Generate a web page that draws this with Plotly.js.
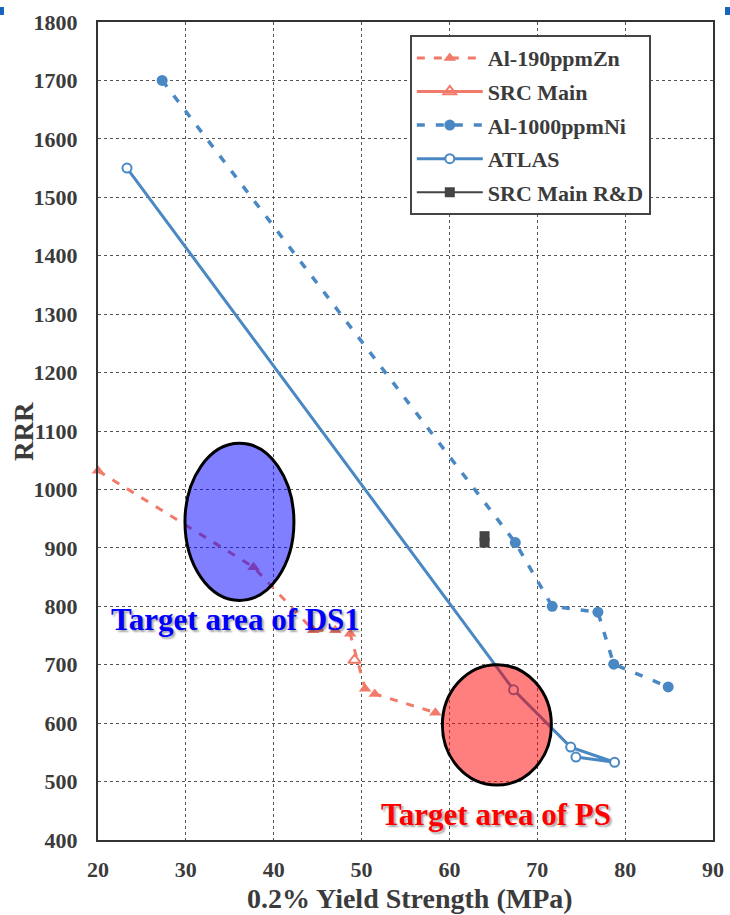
<!DOCTYPE html>
<html>
<head>
<meta charset="utf-8">
<script src="https://cdn.plot.ly/plotly-3.0.1.min.js"></script>
<style>
  html, body { margin: 0; padding: 0; background: #ffffff; }
  #chart { width: 730px; height: 915px; }
</style>
</head>
<body>
<div id="chart"></div>
<script>
// RRR versus 0.2% yield strength of aluminium stabilisers

const znX = [20.0, 37.7, 44.5, 47.0, 48.7, 50.4, 51.5, 58.4];
const znY = [1032, 867, 759, 759, 753, 659, 650, 618];

const srcMainX = [49.2];
const srcMainY = [708];

const niX = [27.3, 67.5, 71.7, 76.9, 78.7, 84.9];
const niY = [1700, 909, 800, 790, 701, 662];

const atlasX = [23.3, 67.3, 73.8, 78.8, 74.4];
const atlasY = [1550, 657, 559, 533, 542];

const rdX = [64.0, 64.0];
const rdY = [920, 909];

// Target regions (x range, y range) and their labels
const ds1Box = { x: [29.9, 42.3], y: [810, 1079] };
const psBox  = { x: [59.2, 71.6], y: [494, 700] };
const ds1Label = { text: 'Target area of DS1', x: 35.7, y: 778 };
const psLabel  = { text: 'Target area of PS',  x: 65.3, y: 443 };

const xTicks = [20, 30, 40, 50, 60, 70, 80, 90];
const yTicks = [400, 500, 600, 700, 800, 900, 1000, 1100, 1200, 1300, 1400, 1500, 1600, 1700, 1800];

const SERIF = '"Liberation Serif", "Times New Roman", serif';
const INK = '#3b3b3b';
const SALMON = '#f27a6a';
const BLUE = '#4a88c3';

const traces = [
  {
    name: 'Al-190ppmZn', x: znX, y: znY, mode: 'lines+markers', legendgroup: 'a',
    line: { color: SALMON, width: 3, dash: '8px,9px' },
    marker: { symbol: 'triangle-up', size: 11, color: SALMON },
    cliponaxis: false
  },
  {
    name: 'SRC Main', x: srcMainX, y: srcMainY, mode: 'lines+markers', legendgroup: 'b',
    line: { color: SALMON, width: 3 },
    marker: { symbol: 'triangle-up-open', size: 11, color: SALMON, line: { width: 2 } }
  },
  {
    name: 'Al-1000ppmNi', x: niX, y: niY, mode: 'lines+markers', legendgroup: 'c',
    line: { color: BLUE, width: 3.5, dash: '8px,11px' },
    marker: { symbol: 'circle', size: 11, color: BLUE }
  },
  {
    name: 'ATLAS', x: atlasX, y: atlasY, mode: 'lines+markers', legendgroup: 'd',
    line: { color: BLUE, width: 3 },
    marker: { symbol: 'circle', size: 9, color: '#ffffff', line: { color: BLUE, width: 2 } }
  },
  {
    name: 'SRC Main R&D', x: rdX, y: rdY, mode: 'lines+markers', legendgroup: 'e',
    line: { color: '#444444', width: 2 },
    marker: { symbol: 'square', size: 10, color: '#444444' }
  }
];

const shapes = [
  {
    type: 'circle', xref: 'x', yref: 'y', layer: 'above',
    x0: ds1Box.x[0], x1: ds1Box.x[1], y0: ds1Box.y[0], y1: ds1Box.y[1],
    fillcolor: 'rgba(0,0,255,0.5)', line: { color: '#000000', width: 3 }
  },
  {
    type: 'circle', xref: 'x', yref: 'y', layer: 'above',
    x0: psBox.x[0], x1: psBox.x[1], y0: psBox.y[0], y1: psBox.y[1],
    fillcolor: 'rgba(255,0,0,0.5)', line: { color: '#000000', width: 3 }
  },
  // slide corner marks
  { type: 'rect', xref: 'paper', yref: 'paper', x0: -0.1594, x1: -0.1529, y0: 1.0183, y1: 1.0086,
    fillcolor: '#1565c0', line: { width: 0 } },
  { type: 'rect', xref: 'paper', yref: 'paper', x0: 1.0195, x1: 1.0277, y0: 1.0183, y1: 1.0086,
    fillcolor: '#1565c0', line: { width: 0 } }
];

const labelShadow = '2px 2px 2px rgba(0,0,0,0.35)';
const annotations = [
  {
    text: ds1Label.text, x: ds1Label.x, y: ds1Label.y, xref: 'x', yref: 'y', showarrow: false,
    font: { family: SERIF, size: 31, color: '#0000ff', weight: 'bold', shadow: labelShadow }
  },
  {
    text: psLabel.text, x: psLabel.x, y: psLabel.y, xref: 'x', yref: 'y', showarrow: false,
    font: { family: SERIF, size: 31, color: '#ff0000', weight: 'bold', shadow: labelShadow }
  },
  {
    // vertical axis title
    text: 'RRR', textangle: -90, x: -0.1203, y: 0.4988, xref: 'paper', yref: 'paper',
    xanchor: 'center', yanchor: 'middle', showarrow: false,
    font: { family: SERIF, size: 27, color: INK, weight: 'bold' }
  },
  {
    // horizontal axis title
    text: '0.2% Yield Strength (MPa)', x: 0.5077, y: -0.0721, xref: 'paper', yref: 'paper',
    xanchor: 'center', yanchor: 'middle', showarrow: false,
    font: { family: SERIF, size: 28, color: INK, weight: 'bold' }
  }
];

const axisCommon = {
  showline: true, mirror: true, linecolor: '#333333', linewidth: 2,
  showgrid: true, gridcolor: '#555555', gridwidth: 1, griddash: '3px,3px',
  zeroline: false, ticks: 'outside', tickcolor: 'rgba(0,0,0,0)',
  tickfont: { family: SERIF, size: 22, color: INK, weight: 'bold' }
};

const layout = {
  width: 730, height: 915,
  margin: { l: 98, r: 17, t: 22, b: 75 },
  paper_bgcolor: '#ffffff', plot_bgcolor: '#ffffff',
  showlegend: true,
  legend: {
    x: 0.507, y: 0.984, xanchor: 'left', yanchor: 'top',
    bgcolor: '#ffffff', bordercolor: '#444444', borderwidth: 2,
    traceorder: 'grouped', tracegroupgap: 2, itemwidth: 66,
    font: { family: SERIF, size: 22, color: INK, weight: 'bold' }
  },
  xaxis: Object.assign({}, axisCommon, {
    range: [20, 90], tickvals: xTicks, ticklen: 9
  }),
  yaxis: Object.assign({}, axisCommon, {
    range: [400, 1800], tickvals: yTicks, ticklen: 14
  }),
  shapes: shapes,
  annotations: annotations
};

Plotly.newPlot('chart', traces, layout, { displayModeBar: false, staticPlot: true });
</script>
</body>
</html>
